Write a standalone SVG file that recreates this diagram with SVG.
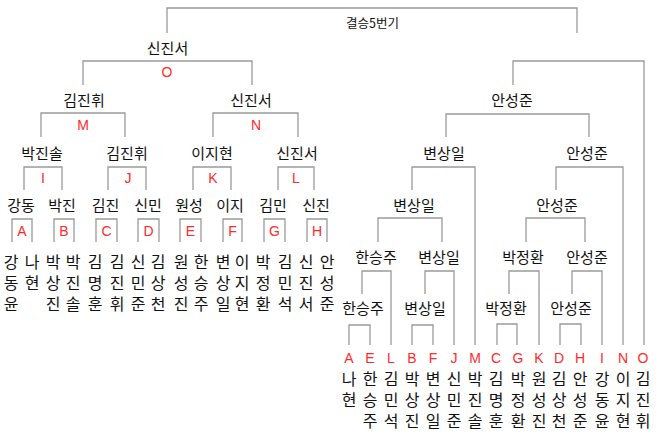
<svg xmlns="http://www.w3.org/2000/svg" width="660" height="438" viewBox="0 0 660 438">
<style>
.ln{stroke:#9a9a9a;stroke-width:1.3;fill:none}
.nm{font-family:"Noto Sans CJK KR","Noto Sans",sans-serif;font-size:15px;fill:#111;text-anchor:middle}
.tt{font-family:"Noto Sans CJK KR","Noto Sans",sans-serif;font-size:12.5px;fill:#111;text-anchor:middle}
.lt{font-family:"Liberation Sans",Arial,sans-serif;font-size:14px;fill:#ff2a2a;text-anchor:middle}
.vt{font-family:"Liberation Sans","Noto Sans CJK KR",sans-serif;font-size:16px;fill:#111;text-anchor:middle}
</style>
<rect width="660" height="438" fill="#fff"/>
<g id="connectors">
<path class="ln" d="M167 33V8H577V33"/>
<path class="ln" d="M83 85V61H252V85"/>
<path class="ln" d="M41 137V113H125V137"/>
<path class="ln" d="M213 137V113H298V137"/>
<path class="ln" d="M24 190V167H62V190"/>
<path class="ln" d="M108 190V167H146V190"/>
<path class="ln" d="M193 190V167H231V190"/>
<path class="ln" d="M278 190V167H314V190"/>
<path class="ln" d="M12 242V219H32V242"/>
<path class="ln" d="M54 242V219H74V242"/>
<path class="ln" d="M96 242V219H117V242"/>
<path class="ln" d="M138 242V219H159V242"/>
<path class="ln" d="M180 242V219H201V242"/>
<path class="ln" d="M223 242V219H242V242"/>
<path class="ln" d="M264 242V219H285V242"/>
<path class="ln" d="M307 242V219H327V242"/>
<path class="ln" d="M513 85V61H644V345"/>
<path class="ln" d="M446 137V114H589V137"/>
<path class="ln" d="M412 190V167H475V345"/>
<path class="ln" d="M556 190V167H623V345"/>
<path class="ln" d="M378 242V218H442V242"/>
<path class="ln" d="M526 242V218H585V242"/>
<path class="ln" d="M362 294V271H391V345"/>
<path class="ln" d="M425 294V271H454V345"/>
<path class="ln" d="M509 294V271H539V345"/>
<path class="ln" d="M572 294V271H602V345"/>
<path class="ln" d="M349 345V325H370V345"/>
<path class="ln" d="M412 345V325H433V345"/>
<path class="ln" d="M497 345V324H517V345"/>
<path class="ln" d="M560 345V324H581V345"/>
</g>
<g id="final"><text class="tt" x="372.5" y="27.5">결승5번기</text></g>
<g id="matchO"><text class="nm" x="167.5" y="53.5">신진서</text><text class="lt" x="167" y="77">O</text></g>
<g id="matchM"><text class="nm" x="84" y="105.5">김진휘</text><text class="lt" x="83" y="130">M</text></g>
<g id="matchN"><text class="nm" x="251" y="105.5">신진서</text><text class="lt" x="256" y="130">N</text></g>
<g id="matchI"><text class="nm" x="42" y="158.5">박진솔</text><text class="lt" x="43" y="183">I</text></g>
<g id="matchJ"><text class="nm" x="127" y="158.5">김진휘</text><text class="lt" x="128" y="183">J</text></g>
<g id="matchK"><text class="nm" x="212" y="158.5">이지현</text><text class="lt" x="213" y="183">K</text></g>
<g id="matchL"><text class="nm" x="297" y="158.5">신진서</text><text class="lt" x="296" y="183">L</text></g>
<g id="matchA"><text class="nm" x="21" y="210.5">강동</text><text class="lt" x="22" y="236">A</text></g>
<g id="matchB"><text class="nm" x="62" y="210.5">박진</text><text class="lt" x="64" y="236">B</text></g>
<g id="matchC"><text class="nm" x="105.5" y="210.5">김진</text><text class="lt" x="106.5" y="236">C</text></g>
<g id="matchD"><text class="nm" x="148" y="210.5">신민</text><text class="lt" x="148.5" y="236">D</text></g>
<g id="matchE"><text class="nm" x="189" y="210.5">원성</text><text class="lt" x="190.5" y="236">E</text></g>
<g id="matchF"><text class="nm" x="230" y="210.5">이지</text><text class="lt" x="232.5" y="236">F</text></g>
<g id="matchG"><text class="nm" x="273" y="210.5">김민</text><text class="lt" x="274.5" y="236">G</text></g>
<g id="matchH"><text class="nm" x="316" y="210.5">신진</text><text class="lt" x="317" y="236">H</text></g>
<g id="players-left">
<text class="vt" x="11" y="268"><tspan x="11">강</tspan><tspan x="11" dy="21">동</tspan><tspan x="11" dy="21">윤</tspan></text>
<text class="vt" x="32" y="268"><tspan x="32">나</tspan><tspan x="32" dy="21">현</tspan></text>
<text class="vt" x="53" y="268"><tspan x="53">박</tspan><tspan x="53" dy="21">상</tspan><tspan x="53" dy="21">진</tspan></text>
<text class="vt" x="73" y="268"><tspan x="73">박</tspan><tspan x="73" dy="21">진</tspan><tspan x="73" dy="21">솔</tspan></text>
<text class="vt" x="95" y="268"><tspan x="95">김</tspan><tspan x="95" dy="21">명</tspan><tspan x="95" dy="21">훈</tspan></text>
<text class="vt" x="117" y="268"><tspan x="117">김</tspan><tspan x="117" dy="21">진</tspan><tspan x="117" dy="21">휘</tspan></text>
<text class="vt" x="138" y="268"><tspan x="138">신</tspan><tspan x="138" dy="21">민</tspan><tspan x="138" dy="21">준</tspan></text>
<text class="vt" x="158" y="268"><tspan x="158">김</tspan><tspan x="158" dy="21">상</tspan><tspan x="158" dy="21">천</tspan></text>
<text class="vt" x="181" y="268"><tspan x="181">원</tspan><tspan x="181" dy="21">성</tspan><tspan x="181" dy="21">진</tspan></text>
<text class="vt" x="201" y="268"><tspan x="201">한</tspan><tspan x="201" dy="21">승</tspan><tspan x="201" dy="21">주</tspan></text>
<text class="vt" x="223" y="268"><tspan x="223">변</tspan><tspan x="223" dy="21">상</tspan><tspan x="223" dy="21">일</tspan></text>
<text class="vt" x="242" y="268"><tspan x="242">이</tspan><tspan x="242" dy="21">지</tspan><tspan x="242" dy="21">현</tspan></text>
<text class="vt" x="263" y="268"><tspan x="263">박</tspan><tspan x="263" dy="21">정</tspan><tspan x="263" dy="21">환</tspan></text>
<text class="vt" x="285" y="268"><tspan x="285">김</tspan><tspan x="285" dy="21">민</tspan><tspan x="285" dy="21">석</tspan></text>
<text class="vt" x="306" y="268"><tspan x="306">신</tspan><tspan x="306" dy="21">진</tspan><tspan x="306" dy="21">서</tspan></text>
<text class="vt" x="327" y="268"><tspan x="327">안</tspan><tspan x="327" dy="21">성</tspan><tspan x="327" dy="21">준</tspan></text>
</g>
<g id="r-top"><text class="nm" x="512" y="105.5">안성준</text></g>
<g id="r-bsi1"><text class="nm" x="444" y="158.5">변상일</text></g>
<g id="r-asj1"><text class="nm" x="587" y="158.5">안성준</text></g>
<g id="r-bsi2"><text class="nm" x="414" y="210.5">변상일</text></g>
<g id="r-asj2"><text class="nm" x="557" y="210.5">안성준</text></g>
<g id="r-hsj1"><text class="nm" x="376" y="262.5">한승주</text></g>
<g id="r-bsi3"><text class="nm" x="439" y="262.5">변상일</text></g>
<g id="r-pjh1"><text class="nm" x="523" y="262.5">박정환</text></g>
<g id="r-asj3"><text class="nm" x="587" y="262.5">안성준</text></g>
<g id="r-hsj2"><text class="nm" x="363" y="313.5">한승주</text></g>
<g id="r-bsi4"><text class="nm" x="425" y="313.5">변상일</text></g>
<g id="r-pjh2"><text class="nm" x="506" y="313.5">박정환</text></g>
<g id="r-asj4"><text class="nm" x="571" y="313.5">안성준</text></g>
<g id="players-right">
<text class="lt" x="349" y="363">A</text><text class="vt" y="385"><tspan x="349">나</tspan><tspan x="349" dy="21">현</tspan></text>
<text class="lt" x="370" y="363">E</text><text class="vt" y="385"><tspan x="370">한</tspan><tspan x="370" dy="21">승</tspan><tspan x="370" dy="21">주</tspan></text>
<text class="lt" x="391" y="363">L</text><text class="vt" y="385"><tspan x="391">김</tspan><tspan x="391" dy="21">민</tspan><tspan x="391" dy="21">석</tspan></text>
<text class="lt" x="412" y="363">B</text><text class="vt" y="385"><tspan x="412">박</tspan><tspan x="412" dy="21">상</tspan><tspan x="412" dy="21">진</tspan></text>
<text class="lt" x="433" y="363">F</text><text class="vt" y="385"><tspan x="433">변</tspan><tspan x="433" dy="21">상</tspan><tspan x="433" dy="21">일</tspan></text>
<text class="lt" x="454" y="363">J</text><text class="vt" y="385"><tspan x="454">신</tspan><tspan x="454" dy="21">민</tspan><tspan x="454" dy="21">준</tspan></text>
<text class="lt" x="475" y="363">M</text><text class="vt" y="385"><tspan x="475">박</tspan><tspan x="475" dy="21">진</tspan><tspan x="475" dy="21">솔</tspan></text>
<text class="lt" x="496" y="363">C</text><text class="vt" y="385"><tspan x="496">김</tspan><tspan x="496" dy="21">명</tspan><tspan x="496" dy="21">훈</tspan></text>
<text class="lt" x="518" y="363">G</text><text class="vt" y="385"><tspan x="518">박</tspan><tspan x="518" dy="21">정</tspan><tspan x="518" dy="21">환</tspan></text>
<text class="lt" x="539" y="363">K</text><text class="vt" y="385"><tspan x="539">원</tspan><tspan x="539" dy="21">성</tspan><tspan x="539" dy="21">진</tspan></text>
<text class="lt" x="559" y="363">D</text><text class="vt" y="385"><tspan x="559">김</tspan><tspan x="559" dy="21">상</tspan><tspan x="559" dy="21">천</tspan></text>
<text class="lt" x="580" y="363">H</text><text class="vt" y="385"><tspan x="580">안</tspan><tspan x="580" dy="21">성</tspan><tspan x="580" dy="21">준</tspan></text>
<text class="lt" x="602" y="363">I</text><text class="vt" y="385"><tspan x="602">강</tspan><tspan x="602" dy="21">동</tspan><tspan x="602" dy="21">윤</tspan></text>
<text class="lt" x="623" y="363">N</text><text class="vt" y="385"><tspan x="623">이</tspan><tspan x="623" dy="21">지</tspan><tspan x="623" dy="21">현</tspan></text>
<text class="lt" x="643" y="363">O</text><text class="vt" y="385"><tspan x="643">김</tspan><tspan x="643" dy="21">진</tspan><tspan x="643" dy="21">휘</tspan></text>
</g>
</svg>
